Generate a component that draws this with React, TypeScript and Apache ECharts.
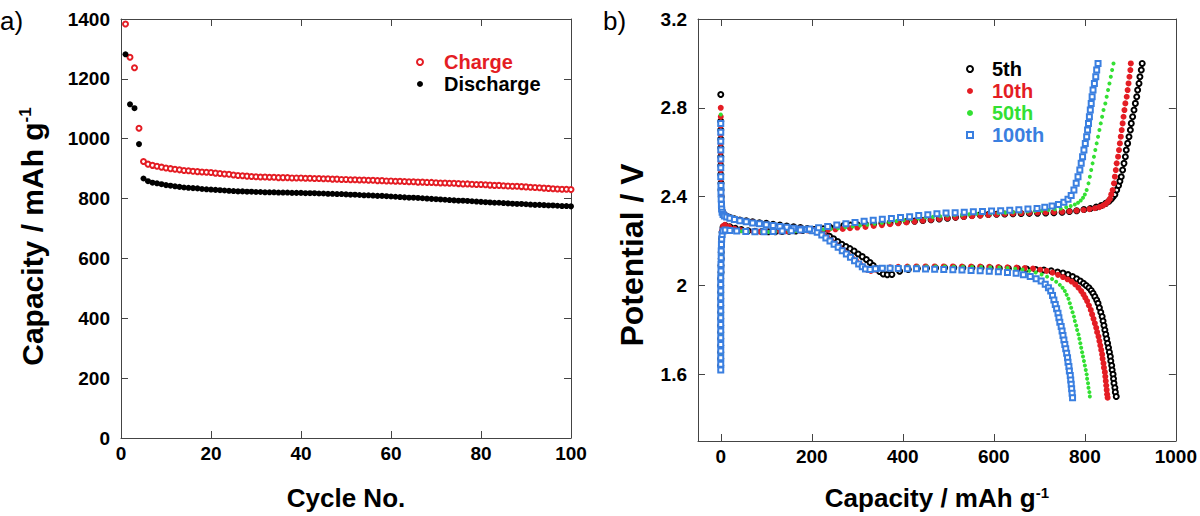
import React, { useEffect, useRef } from "react";
import * as echarts from "echarts";

const FONT = "Liberation Sans";
const RED = "#e41d24";
const GREEN = "#33e033";
const BLUE = "#3a7fe0";

// Panel a
const cycles: number[] = Array.from({ length: 100 }, (_, i) => i + 1);
const chargeCap: number[] = [
  1383, 1272, 1237, 1035, 924, 915, 911, 908, 905, 902,
  900, 898, 896, 894, 893, 891, 890, 889, 888, 887,
  885, 884, 882, 881, 879, 877, 876, 875, 874, 873,
  872, 872, 871, 871, 870, 870, 870, 869, 869, 869,
  868, 868, 867, 867, 866, 866, 865, 865, 864, 864,
  863, 863, 862, 862, 861, 861, 860, 860, 859, 859,
  858, 858, 857, 856, 856, 855, 855, 854, 854, 853,
  852, 852, 851, 851, 850, 849, 849, 848, 847, 847,
  846, 845, 844, 844, 843, 842, 841, 841, 840, 839,
  838, 837, 836, 835, 834, 833, 832, 831, 831, 830,
];
const dischargeCap: number[] = [
  1282, 1115, 1102, 982, 867, 858, 853, 851, 848, 845,
  843, 841, 839, 837, 836, 835, 834, 832, 831, 830,
  829, 828, 827, 826, 825, 824, 824, 823, 823, 822,
  822, 821, 821, 821, 820, 820, 820, 819, 819, 819,
  818, 818, 818, 817, 817, 816, 816, 815, 815, 814,
  813, 813, 812, 811, 811, 810, 809, 809, 808, 807,
  806, 805, 804, 803, 803, 802, 801, 800, 799, 798,
  797, 796, 795, 794, 793, 793, 792, 791, 790, 789,
  788, 787, 786, 786, 785, 784, 783, 782, 782, 781,
  780, 779, 779, 778, 777, 777, 776, 775, 775, 774,
];

// Panel b: [capacity, potential]
const dis5: number[][] = [
  [0,2.86],[0,2.74],[0,2.70],[0,2.66],[0,2.62],[0,2.58],[0,2.54],[0,2.50],[0.5,2.46],[0.5,2.43],[1,2.40],[1.5,2.37],[2,2.35],[3,2.335],[5,2.325],[8,2.318],[13,2.312],[20,2.306],[30,2.3],[42,2.295],[56,2.291],[70,2.287],[85,2.283],[100,2.28],[115,2.276],[130,2.272],[145,2.268],[160,2.265],[175,2.261],[190,2.257],[205,2.252],[218,2.245],[229,2.236],[239,2.222],[248,2.21],[257,2.198],[266,2.186],[275,2.176],[284,2.166],[293,2.155],[302,2.142],[311,2.13],[320,2.117],[328,2.104],[335,2.09],[342,2.076],[349,2.063],[357,2.052],[366,2.049],[376,2.05],[393,2.064],[412,2.072],[432,2.077],[452,2.078],[472,2.079],[492,2.08],[512,2.08],[532,2.08],[552,2.08],[572,2.08],[592,2.079],[612,2.078],[632,2.077],[652,2.076],[672,2.074],[692,2.072],[710,2.07],[726,2.066],[740,2.061],[752,2.056],[763,2.049],[773,2.04],[782,2.03],[790,2.02],[797,2.01],[803,2.0],[809,1.99],[814,1.978],[818,1.965],[822,1.95],[826,1.935],[829,1.92],[832,1.9],[835,1.88],[838,1.86],[840,1.84],[842,1.82],[844,1.80],[846,1.78],[848,1.76],[850,1.74],[852,1.72],[854,1.70],[856,1.68],[857,1.66],[859,1.64],[860,1.62],[862,1.60],[863,1.58],[864,1.56],[866,1.54],[867,1.52],[869,1.50],
];
const chg5: number[][] = [
  [0,1.64],[0,1.67],[0,1.70],[0,1.73],[0,1.76],[0,1.79],[0,1.82],[0,1.85],[0,1.88],[0,1.91],[0,1.94],[0,1.97],[0,2.00],[0,2.03],[0.5,2.06],[0.5,2.09],[1,2.12],[1,2.15],[1.5,2.18],[2,2.21],[3,2.24],[5,2.262],[10,2.27],[20,2.265],[32,2.258],[45,2.252],[60,2.247],[75,2.244],[90,2.243],[105,2.242],[120,2.242],[135,2.243],[150,2.244],[165,2.246],[180,2.248],[195,2.25],[210,2.253],[225,2.256],[240,2.262],[255,2.267],[270,2.27],[285,2.272],[300,2.274],[318,2.276],[336,2.278],[354,2.28],[372,2.282],[390,2.285],[408,2.288],[426,2.29],[444,2.293],[462,2.296],[480,2.3],[498,2.303],[516,2.307],[534,2.311],[552,2.315],[570,2.318],[588,2.32],[606,2.321],[624,2.322],[642,2.323],[660,2.324],[678,2.325],[696,2.326],[714,2.327],[732,2.328],[750,2.33],[766,2.333],[782,2.337],[798,2.342],[812,2.347],[825,2.353],[836,2.36],[846,2.37],[853,2.38],[858,2.39],[862,2.40],[866,2.41],[870,2.43],[874,2.45],[877,2.47],[880,2.49],[883,2.52],[886,2.55],[889,2.58],[891,2.61],[894,2.64],[897,2.67],[900,2.70],[902,2.73],[905,2.76],[908,2.79],[911,2.82],[914,2.85],[916,2.88],[919,2.91],[921,2.94],[924,2.97],[926,3.0],
];
const dis10: number[][] = [
  [0,2.80],[0,2.76],[0,2.72],[0,2.68],[0,2.64],[0,2.60],[0,2.56],[0,2.52],[0.5,2.48],[0.5,2.44],[1,2.41],[1.5,2.38],[2,2.355],[3,2.34],[5,2.328],[8,2.32],[13,2.312],[20,2.305],[30,2.298],[42,2.293],[56,2.288],[70,2.284],[85,2.279],[100,2.275],[115,2.271],[130,2.267],[145,2.263],[160,2.26],[175,2.257],[190,2.254],[204,2.25],[215,2.243],[225,2.232],[234,2.217],[243,2.202],[252,2.187],[261,2.172],[270,2.157],[279,2.142],[288,2.127],[297,2.112],[306,2.097],[314,2.083],[322,2.07],[330,2.066],[340,2.072],[355,2.078],[372,2.082],[390,2.084],[410,2.085],[430,2.086],[450,2.086],[470,2.086],[490,2.086],[510,2.086],[530,2.085],[550,2.085],[570,2.085],[590,2.084],[610,2.083],[630,2.082],[650,2.081],[668,2.079],[686,2.076],[702,2.071],[716,2.066],[729,2.058],[741,2.048],[752,2.038],[762,2.028],[771,2.018],[779,2.005],[786,1.99],[792,1.975],[797,1.96],[801,1.945],[805,1.93],[809,1.91],[813,1.89],[816,1.87],[819,1.85],[822,1.83],[825,1.81],[827,1.79],[830,1.77],[832,1.75],[834,1.73],[836,1.71],[838,1.69],[839,1.67],[841,1.65],[842,1.63],[844,1.61],[845,1.59],[846,1.57],[847,1.55],[848,1.53],[849,1.51],[850,1.495],
];
const chg10: number[][] = [
  [0,1.62],[0,1.65],[0,1.68],[0,1.71],[0,1.74],[0,1.77],[0,1.80],[0,1.83],[0,1.86],[0,1.89],[0,1.92],[0,1.95],[0,1.98],[0,2.01],[0,2.04],[0.5,2.07],[0.5,2.10],[1,2.13],[1,2.16],[1.5,2.19],[2,2.22],[3,2.25],[5,2.268],[9,2.273],[18,2.265],[30,2.256],[44,2.249],[58,2.245],[72,2.243],[86,2.242],[100,2.242],[115,2.243],[130,2.244],[145,2.245],[160,2.246],[175,2.247],[190,2.248],[205,2.249],[220,2.25],[236,2.251],[252,2.253],[268,2.255],[284,2.258],[300,2.261],[318,2.264],[336,2.268],[354,2.272],[372,2.276],[390,2.28],[408,2.284],[426,2.288],[444,2.292],[462,2.296],[480,2.3],[498,2.303],[516,2.306],[534,2.309],[552,2.312],[570,2.315],[588,2.318],[606,2.32],[624,2.322],[642,2.324],[660,2.326],[678,2.327],[696,2.328],[714,2.329],[732,2.33],[750,2.332],[766,2.334],[782,2.337],[797,2.34],[810,2.344],[822,2.348],[832,2.353],[840,2.36],[846,2.368],[851,2.378],[855,2.39],[858,2.41],[861,2.43],[864,2.46],[866,2.49],[868,2.52],[870,2.55],[873,2.58],[875,2.61],[877,2.64],[879,2.67],[881,2.70],[883,2.73],[885,2.76],[887,2.79],[889,2.82],[892,2.85],[894,2.88],[896,2.91],[898,2.94],[900,2.97],[901,3.0],
];
const dis50: number[][] = [
  [0,2.77],[0,2.73],[0,2.69],[0,2.65],[0,2.61],[0,2.57],[0,2.53],[0,2.49],[0.5,2.45],[0.5,2.42],[1,2.39],[1.5,2.365],[2,2.345],[3,2.332],[5,2.322],[8,2.315],[13,2.31],[20,2.304],[30,2.298],[42,2.292],[56,2.287],[70,2.283],[85,2.278],[100,2.274],[115,2.27],[130,2.266],[145,2.262],[160,2.259],[175,2.256],[190,2.253],[203,2.249],[214,2.242],[224,2.231],[233,2.216],[242,2.201],[251,2.186],[260,2.171],[269,2.156],[278,2.141],[287,2.126],[296,2.111],[305,2.096],[313,2.082],[320,2.072],[330,2.074],[343,2.079],[358,2.082],[375,2.084],[393,2.085],[412,2.086],[432,2.086],[452,2.086],[472,2.086],[492,2.086],[512,2.085],[532,2.085],[552,2.084],[572,2.083],[592,2.082],[612,2.081],[630,2.079],[647,2.076],[663,2.072],[678,2.066],[692,2.059],[705,2.05],[717,2.04],[728,2.029],[737,2.017],[745,2.003],[751,1.99],[756,1.975],[760,1.958],[764,1.94],[767,1.92],[770,1.90],[773,1.88],[776,1.86],[778,1.84],[781,1.82],[783,1.80],[786,1.78],[788,1.76],[790,1.74],[792,1.72],[794,1.70],[796,1.68],[798,1.66],[800,1.64],[802,1.62],[804,1.60],[805,1.58],[807,1.56],[808,1.54],[810,1.52],[811,1.50],
];
const chg50: number[][] = [
  [0,1.63],[0,1.66],[0,1.69],[0,1.72],[0,1.75],[0,1.78],[0,1.81],[0,1.84],[0,1.87],[0,1.90],[0,1.93],[0,1.96],[0,1.99],[0,2.02],[0,2.05],[0.5,2.08],[1,2.11],[1,2.14],[1.5,2.17],[2,2.20],[3,2.23],[5,2.25],[10,2.256],[20,2.252],[32,2.247],[46,2.244],[60,2.242],[75,2.241],[90,2.241],[105,2.241],[120,2.242],[135,2.243],[150,2.244],[165,2.245],[180,2.246],[195,2.248],[210,2.25],[226,2.252],[242,2.255],[258,2.258],[274,2.262],[290,2.266],[306,2.27],[322,2.274],[338,2.278],[354,2.282],[370,2.286],[386,2.29],[402,2.294],[418,2.298],[434,2.302],[450,2.306],[466,2.309],[482,2.312],[498,2.315],[514,2.317],[530,2.319],[546,2.321],[562,2.323],[578,2.325],[594,2.326],[610,2.327],[626,2.328],[642,2.33],[658,2.331],[674,2.333],[690,2.335],[705,2.337],[720,2.34],[734,2.343],[747,2.347],[759,2.352],[769,2.358],[778,2.365],[785,2.373],[791,2.383],[796,2.395],[800,2.41],[804,2.43],[808,2.46],[811,2.49],[814,2.52],[817,2.55],[820,2.58],[823,2.61],[826,2.64],[829,2.67],[832,2.70],[835,2.73],[838,2.76],[841,2.79],[845,2.82],[848,2.85],[851,2.88],[854,2.91],[857,2.94],[860,2.97],[863,3.0],
];
const dis100: number[][] = [
  [0,2.73],[0,2.69],[0,2.65],[0,2.61],[0,2.57],[0,2.53],[0,2.49],[0.5,2.45],[0.5,2.42],[1,2.39],[1.5,2.365],[2,2.345],[3,2.33],[5,2.32],[8,2.313],[13,2.308],[20,2.303],[30,2.297],[42,2.292],[56,2.287],[70,2.282],[85,2.278],[100,2.274],[115,2.27],[130,2.266],[145,2.262],[160,2.258],[175,2.255],[190,2.252],[202,2.247],[212,2.24],[222,2.228],[231,2.214],[240,2.2],[249,2.186],[258,2.172],[267,2.157],[276,2.142],[285,2.127],[294,2.112],[303,2.097],[311,2.084],[318,2.074],[328,2.072],[340,2.075],[355,2.078],[372,2.078],[390,2.077],[410,2.076],[430,2.075],[450,2.074],[470,2.073],[490,2.072],[510,2.071],[530,2.07],[550,2.068],[570,2.066],[590,2.064],[610,2.062],[630,2.059],[649,2.055],[665,2.049],[680,2.041],[693,2.031],[704,2.02],[713,2.006],[720,1.99],[725,1.975],[729,1.955],[732,1.935],[735,1.915],[738,1.895],[741,1.875],[743,1.855],[745,1.835],[748,1.815],[750,1.795],[752,1.775],[754,1.755],[756,1.735],[758,1.715],[760,1.695],[762,1.675],[763,1.655],[765,1.635],[766,1.615],[768,1.595],[769,1.575],[770,1.555],[771,1.535],[772,1.515],[773,1.495],
];
const chg100: number[][] = [
  [0,1.62],[0,1.645],[0,1.675],[0,1.705],[0,1.735],[0,1.765],[0,1.795],[0,1.825],[0,1.855],[0,1.885],[0,1.915],[0,1.945],[0,1.975],[0,2.005],[0,2.035],[0.5,2.065],[0.5,2.095],[1,2.125],[1,2.155],[1.5,2.185],[2,2.21],[3,2.23],[5,2.245],[10,2.25],[20,2.248],[35,2.245],[55,2.243],[75,2.242],[95,2.242],[115,2.243],[135,2.245],[155,2.247],[175,2.25],[195,2.254],[215,2.26],[235,2.266],[255,2.272],[275,2.278],[295,2.284],[315,2.289],[335,2.294],[355,2.298],[375,2.302],[395,2.306],[415,2.31],[435,2.315],[455,2.319],[475,2.323],[495,2.326],[515,2.328],[535,2.33],[555,2.332],[575,2.333],[595,2.335],[615,2.337],[635,2.339],[655,2.341],[675,2.344],[695,2.347],[712,2.352],[728,2.358],[742,2.365],[754,2.375],[763,2.388],[770,2.405],[776,2.43],[781,2.46],[785,2.49],[789,2.52],[792,2.55],[795,2.58],[798,2.61],[801,2.64],[804,2.67],[806,2.70],[808,2.73],[810,2.76],[812,2.79],[814,2.82],[816,2.85],[818,2.88],[821,2.91],[824,2.94],[826,2.97],[829,3.0],
];
const capTicksB: number[] = [0, 200, 400, 600, 800, 1000];
const potTicks: number[] = [1.6, 2, 2.4, 2.8, 3.2];

const AXIS_COLOR = "#444";
const plain = (v: number) => String(v);
const labelStyle = { fontSize: 19, fontWeight: "bold", color: "#000", fontFamily: FONT, formatter: plain };
const titleRich = {
  t: { fontSize: 26, fontWeight: "bold", color: "#000", fontFamily: FONT },
  s: { fontSize: 15, fontWeight: "bold", color: "#000", fontFamily: FONT, verticalAlign: "top" },
};
const titleRichY = {
  t: { fontSize: 30, fontWeight: "bold", color: "#000", fontFamily: FONT },
  s: { fontSize: 17, fontWeight: "bold", color: "#000", fontFamily: FONT, verticalAlign: "top" },
};

function baseAxis(extra: any) {
  return {
    type: "value",
    splitLine: { show: false },
    axisLine: { show: true, onZero: false, lineStyle: { color: AXIS_COLOR, width: 1 } },
    axisTick: { show: true, inside: true, length: 7, lineStyle: { color: AXIS_COLOR, width: 1 } },
    ...extra,
  };
}

const legendText = { fontSize: 20, fontWeight: "bold", fontFamily: FONT, lineHeight: 22 };

export default function App() {
  const ref = useRef<HTMLDivElement>(null);
  useEffect(() => {
    if (!ref.current) return;
    const chart = echarts.init(ref.current, null, { renderer: "svg" });
    const option: any = {
      animation: false,
      backgroundColor: "#fff",
      textStyle: { fontFamily: FONT },
      grid: [
        { left: 121, top: 19, width: 450, height: 422 },
        { left: 698, top: 19, width: 479, height: 422 },
      ],
      xAxis: [
        baseAxis({
          gridIndex: 0, position: "bottom", min: 0, max: 100, interval: 20,
          axisLabel: { ...labelStyle, margin: 6 },
          name: "Cycle No.", nameLocation: "middle", nameGap: 47,
          nameTextStyle: { fontSize: 26, fontWeight: "bold", color: "#000", fontFamily: FONT },
        }),
        baseAxis({ gridIndex: 0, position: "top", min: 0, max: 100, interval: 20, axisLabel: { show: false } }),
        baseAxis({
          gridIndex: 1, position: "bottom", min: -50, max: 1000,
          axisLabel: { ...labelStyle, margin: 6, customValues: capTicksB },
          axisTick: { show: true, inside: true, length: 7, lineStyle: { color: AXIS_COLOR }, customValues: capTicksB },
          name: "{t|Capacity / mAh g}{s|-1}", nameLocation: "middle", nameGap: 44,
          nameTextStyle: { rich: titleRich },
        }),
        baseAxis({
          gridIndex: 1, position: "top", min: -50, max: 1000, axisLabel: { show: false },
          axisTick: { show: true, inside: true, length: 7, lineStyle: { color: AXIS_COLOR }, customValues: capTicksB },
        }),
      ],
      yAxis: [
        baseAxis({
          gridIndex: 0, position: "left", min: 0, max: 1400, interval: 200,
          axisLabel: { ...labelStyle, margin: 11 },
          name: "{t|Capacity / mAh g}{s|-1}", nameLocation: "middle", nameGap: 74, nameRotate: 90,
          nameTextStyle: { rich: titleRichY, padding: [0, 16, 0, 0] },
        }),
        baseAxis({ gridIndex: 0, position: "right", min: 0, max: 1400, interval: 200, axisLabel: { show: false } }),
        baseAxis({
          gridIndex: 1, position: "left", min: 1.3, max: 3.2,
          axisLabel: { ...labelStyle, margin: 11, customValues: potTicks },
          axisTick: { show: true, inside: true, length: 7, lineStyle: { color: AXIS_COLOR }, customValues: potTicks },
          name: "Potential / V", nameLocation: "middle", nameGap: 50, nameRotate: 90,
          nameTextStyle: { fontSize: 32, fontWeight: "bold", color: "#000", fontFamily: FONT, padding: [0, 50, 0, 0] },
        }),
        baseAxis({
          gridIndex: 1, position: "right", min: 1.3, max: 3.2, axisLabel: { show: false },
          axisTick: { show: true, inside: true, length: 7, lineStyle: { color: AXIS_COLOR }, customValues: potTicks },
        }),
      ],
      legend: [
        {
          orient: "vertical", left: 411, top: 46, itemWidth: 6, itemHeight: 6, itemGap: 0,
          textStyle: { ...legendText, padding: [0, 0, 0, 16] },
          data: [
            { name: "Charge", textStyle: { color: RED } },
            { name: "Discharge", textStyle: { color: "#000" } },
          ],
        },
        {
          orient: "vertical", left: 961, top: 53, itemWidth: 6, itemHeight: 6, itemGap: 0,
          textStyle: { ...legendText, padding: [0, 0, 0, 14] },
          data: [
            { name: "5th", textStyle: { color: "#000" } },
            { name: "10th", textStyle: { color: RED } },
            { name: "50th", textStyle: { color: GREEN } },
            { name: "100th", textStyle: { color: BLUE } },
          ],
        },
      ],
      graphic: [
        { type: "text", left: 0, top: 8, style: { text: "a)", fontSize: 26, fontFamily: FONT, fill: "#000" } },
        { type: "text", left: 603, top: 8, style: { text: "b)", fontSize: 26, fontFamily: FONT, fill: "#000" } },
      ],
      series: [
        {
          name: "Charge", type: "scatter", xAxisIndex: 0, yAxisIndex: 0, symbol: "emptyCircle", symbolSize: 5,
          itemStyle: { color: RED, borderColor: RED, borderWidth: 1, opacity: 1 },
          data: cycles.map((c, i) => [c, chargeCap[i]]),
        },
        {
          name: "Discharge", type: "scatter", xAxisIndex: 0, yAxisIndex: 0, symbol: "circle", symbolSize: 6,
          itemStyle: { color: "#000", opacity: 1 },
          data: cycles.map((c, i) => [c, dischargeCap[i]]),
        },
        ...[
          { name: "5th", d: dis5, c: chg5, symbol: "emptyCircle", size: 5, style: { color: "#000", borderColor: "#000", borderWidth: 1, opacity: 1 } },
          { name: "10th", d: dis10, c: chg10, symbol: "circle", size: 6, style: { color: RED, opacity: 1 } },
          { name: "50th", d: dis50, c: chg50, symbol: "circle", size: 4, style: { color: GREEN, opacity: 1 } },
          { name: "100th", d: dis100, c: chg100, symbol: "emptyRect", size: 5, style: { color: BLUE, borderColor: BLUE, borderWidth: 1, opacity: 1 } },
        ].flatMap((s) => [
          { name: s.name, type: "scatter", xAxisIndex: 2, yAxisIndex: 2, symbol: s.symbol, symbolSize: s.size, itemStyle: s.style, data: s.d },
          { name: s.name, type: "scatter", xAxisIndex: 2, yAxisIndex: 2, symbol: s.symbol, symbolSize: s.size, itemStyle: s.style, data: s.c },
        ]),
      ],
    };
    chart.setOption(option);
    return () => chart.dispose();
  }, []);
  return (
    <div
      ref={ref}
      style={{ position: "fixed", left: 0, top: 0, width: 1200, height: 516, background: "#fff" }}
    />
  );
}
